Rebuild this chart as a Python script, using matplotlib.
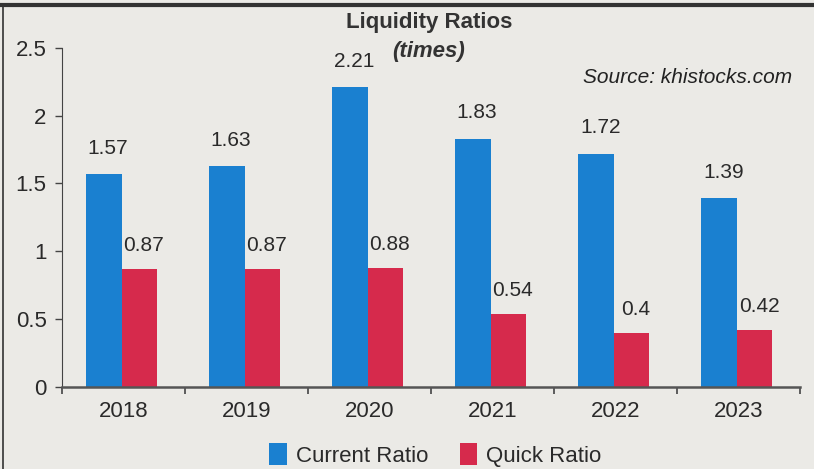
import matplotlib
matplotlib.use("Agg")
import matplotlib.pyplot as plt
import numpy as np
from matplotlib import font_manager

years = ["2018", "2019", "2020", "2021", "2022", "2023"]
current_ratio = [1.57, 1.63, 2.21, 1.83, 1.72, 1.39]
quick_ratio = [0.87, 0.87, 0.88, 0.54, 0.4, 0.42]
yticks = [0, 0.5, 1, 1.5, 2, 2.5]
ytick_labels = ["0", "0.5", "1", "1.5", "2", "2.5"]

names = {f.name for f in font_manager.fontManager.ttflist}
fam = ["Liberation Sans Narrow"] if "Liberation Sans Narrow" in names else ["Liberation Sans"]
plt.rcParams["font.family"] = fam + ["DejaVu Sans"]

bg = "#ebeae6"
blue = "#1a80d0"
red = "#d62a4c"
txt = "#2a2a2a"

fig = plt.figure(figsize=(8.14, 4.69), dpi=100, facecolor=bg)
ax = fig.add_axes([0.076, 0.175, 0.907, 0.723], facecolor=bg)

x = np.arange(len(years))
w = 0.29
ax.bar(x - w / 2 - 0.015, current_ratio, w, color=blue, label="Current Ratio")
ax.bar(x + w / 2 - 0.015, quick_ratio, w, color=red, label="Quick Ratio")

for xi, v in zip(x, current_ratio):
    ax.text(xi - w / 2 + 0.02, v + 0.12, f"{v:g}", ha="center", va="bottom", fontsize=15, color=txt)
for xi, v in zip(x, quick_ratio):
    ax.text(xi + w / 2 + 0.02, v + 0.1, f"{v:g}", ha="center", va="bottom", fontsize=15, color=txt)

ax.set_xlim(-0.5, len(years) - 0.5)
ax.set_ylim(0, 2.5)
ax.set_yticks(yticks)
ax.set_yticklabels(ytick_labels, fontsize=16, color=txt)
ax.set_xticks(x)
ax.set_xticklabels(years, fontsize=16, color=txt)
ax.tick_params(axis="x", which="major", length=0, pad=10)
ax.set_xticks(np.arange(-0.5, len(years), 1), minor=True)
ax.tick_params(axis="x", which="minor", length=5, width=1.2, color="#444444")
ax.tick_params(axis="y", length=5, width=1, color="#444444", pad=6)

for s in ["top", "right"]:
    ax.spines[s].set_visible(False)
ax.spines["left"].set_color("#444444")
ax.spines["bottom"].set_color("#555555")
ax.spines["bottom"].set_linewidth(1.8)

fig.text(0.527, 0.953, "Liquidity Ratios", ha="center", va="center", fontsize=16,
         fontweight="bold", color="#333333")
fig.text(0.527, 0.89, "(times)", ha="center", va="center", fontsize=16,
         fontweight="bold", fontstyle="italic", color="#333333")
fig.text(0.845, 0.835, "Source: khistocks.com", ha="center", va="center", fontsize=15,
         fontstyle="italic", color="#222222")

leg = fig.legend(loc="center", bbox_to_anchor=(0.535, 0.03), ncol=2, frameon=False,
                 fontsize=16, handlelength=0.8, handleheight=1.1, columnspacing=1.4,
                 handletextpad=0.4)
for t in leg.get_texts():
    t.set_color(txt)

fig.add_artist(plt.Line2D([0.004, 0.004], [0, 0.985], transform=fig.transFigure,
                          color="#333333", lw=1.2))
fig.add_artist(plt.Line2D([0, 1], [0.99, 0.99], transform=fig.transFigure,
                          color="#333333", lw=3))

fig.savefig("out.png", dpi=100, facecolor=bg)
